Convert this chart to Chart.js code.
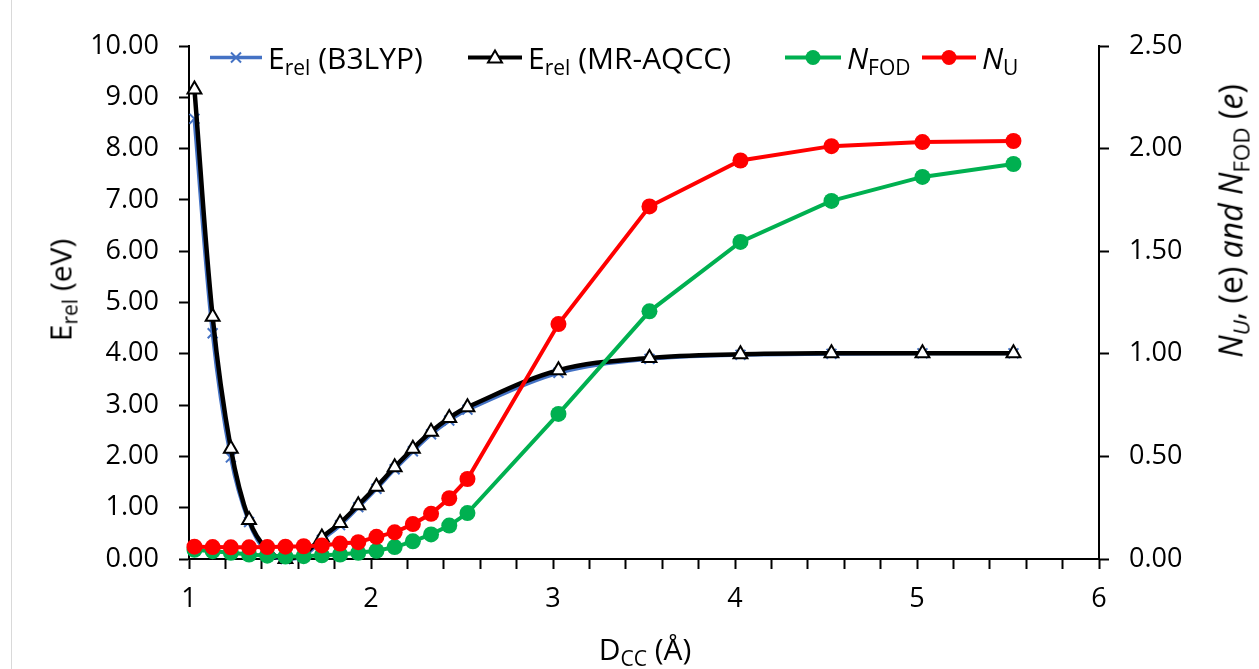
<!DOCTYPE html>
<html lang="en">
<head>
    <meta charset="UTF-8">
    <title>Erel, NFOD and NU vs DCC</title>
    <style>
        body {
            margin: 0;
            padding: 0;
            background: #fff;
            font-family: 'Open Sans', sans-serif;
        }

        #wrap {
            position: relative;
            width: 1259px;
            height: 669px;
            overflow: hidden;
        }

        #frame {
            position: absolute;
            left: 11px;
            top: -2px;
            width: 1300px;
            height: 700px;
            border: 1px solid #d9d9d9;
        }

        canvas {
            position: absolute;
            left: 0;
            top: 0;
        }

        .title {
            position: absolute;
            font-size: 30px;
            color: #000;
            white-space: nowrap;
            transform: translate(-50%, -50%);
        }

        .rot {
            transform: translate(-50%, -50%) rotate(-90deg);
        }

        sub {
            font-size: 70%;
            vertical-align: -0.3em;
            line-height: 0;
        }

        .leg {
            position: absolute;
            top: 57px;
            display: flex;
            align-items: center;
            transform: translateY(-50%);
            font-size: 30px;
            white-space: nowrap;
        }

        .leg svg {
            margin-right: 4px;
        }
    </style>
</head>
<body>
    <div id="wrap">
        <div id="frame"></div>
        <canvas id="chart" width="1259" height="669"></canvas>

        <div class="leg" style="left:208px">
            <svg width="56" height="20"><line x1="2" y1="10" x2="54" y2="10" stroke="#4472C4" stroke-width="3.5"/><path d="M23 5 L33 15 M33 5 L23 15" stroke="#4472C4" stroke-width="2"/></svg>
            <span>E<sub>rel</sub> (B3LYP)</span>
        </div>
        <div class="leg" style="left:466px">
            <svg width="58" height="20"><line x1="2" y1="10" x2="56" y2="10" stroke="#000" stroke-width="4"/><path d="M29 3 L36 15 L22 15 Z" fill="#fff" stroke="#000" stroke-width="2"/></svg>
            <span>E<sub>rel</sub> (MR-AQCC)</span>
        </div>
        <div class="leg" style="left:783px">
            <svg width="60" height="20"><line x1="2" y1="10" x2="58" y2="10" stroke="#00B050" stroke-width="4"/><circle cx="30" cy="10" r="7.5" fill="#00B050"/></svg>
            <span><i>N</i><sub>FOD</sub></span>
        </div>
        <div class="leg" style="left:920px">
            <svg width="58" height="20"><line x1="2" y1="10" x2="56" y2="10" stroke="#FF0000" stroke-width="4"/><circle cx="29" cy="10" r="7.5" fill="#FF0000"/></svg>
            <span><i>N</i><sub>U</sub></span>
        </div>

        <div class="title rot" style="left:60px; top:290px">E<sub>rel</sub> (eV)</div>
        <div class="title rot" style="left:1230px; top:221px; font-size:32px"><i>N<sub>U</sub></i>, (e) <i>and N</i><sub>FOD</sub> (<i>e</i>)</div>
        <div class="title" style="left:645px; top:648px">D<sub>CC</sub> (Å)</div>
    </div>

    <script src="https://cdn.jsdelivr.net/npm/chart.js"></script>
    <script>
        // C-C distance (Angstrom)
        const dcc = [1.03, 1.13, 1.23, 1.33, 1.43, 1.53, 1.63, 1.73, 1.83, 1.93, 2.03,
                     2.13, 2.23, 2.33, 2.43, 2.53, 3.03, 3.53, 4.03, 4.53, 5.03, 5.53];

        // relative energies (eV), left axis
        const eB3lyp = [8.58, 4.40, 1.98, 0.72, 0.12, 0.00, 0.06, 0.37, 0.66, 1.01, 1.37,
                        1.75, 2.10, 2.43, 2.70, 2.91, 3.63, 3.90, 3.98, 4.00, 4.01, 4.01];
        const eMrAqcc = [9.15, 4.72, 2.15, 0.76, 0.18, 0.00, 0.10, 0.42, 0.70, 1.05, 1.41,
                         1.79, 2.15, 2.48, 2.75, 2.96, 3.68, 3.92, 3.99, 4.01, 4.01, 4.01];

        // electron counts (e), right axis
        const nFod = [0.045, 0.038, 0.030, 0.022, 0.016, 0.012, 0.014, 0.018, 0.022, 0.030, 0.040,
                      0.058, 0.086, 0.120, 0.163, 0.224, 0.707, 1.207, 1.545, 1.745, 1.862, 1.925];
        const nU = [0.060, 0.058, 0.057, 0.057, 0.058, 0.060, 0.062, 0.066, 0.075, 0.082, 0.108,
                    0.130, 0.170, 0.220, 0.296, 0.390, 1.145, 1.718, 1.942, 2.012, 2.032, 2.037];

        const pts = arr => dcc.map((x, i) => ({ x: x, y: arr[i] }));

        Chart.defaults.font.family = "'Open Sans', sans-serif";
        Chart.defaults.font.size = 27;
        Chart.defaults.color = '#000';

        const axisGrid = {
            drawOnChartArea: false,
            tickLength: 10,
            tickColor: '#000',
            tickWidth: 2
        };

        new Chart(document.getElementById('chart'), {
            type: 'scatter',
            data: {
                datasets: [
                    {
                        label: 'Erel (B3LYP)',
                        data: pts(eB3lyp),
                        yAxisID: 'y',
                        showLine: true,
                        tension: 0.35,
                        borderColor: '#4472C4',
                        borderWidth: 4,
                        pointStyle: 'crossRot',
                        pointRadius: 7,
                        pointBorderWidth: 2,
                        pointBorderColor: '#4472C4',
                        clip: false,
                        order: 4
                    },
                    {
                        label: 'Erel (MR-AQCC)',
                        data: pts(eMrAqcc),
                        yAxisID: 'y',
                        showLine: true,
                        tension: 0.35,
                        borderColor: '#000',
                        borderWidth: 4.5,
                        pointStyle: 'triangle',
                        pointRadius: 8,
                        pointBorderWidth: 2,
                        pointBorderColor: '#000',
                        pointBackgroundColor: '#fff',
                        clip: false,
                        order: 3
                    },
                    {
                        label: 'NFOD',
                        data: pts(nFod),
                        yAxisID: 'y2',
                        showLine: true,
                        borderColor: '#00B050',
                        borderWidth: 4,
                        pointStyle: 'circle',
                        pointRadius: 8,
                        pointBorderWidth: 0,
                        pointBackgroundColor: '#00B050',
                        clip: false,
                        order: 2
                    },
                    {
                        label: 'NU',
                        data: pts(nU),
                        yAxisID: 'y2',
                        showLine: true,
                        borderColor: '#FF0000',
                        borderWidth: 4,
                        pointStyle: 'circle',
                        pointRadius: 8,
                        pointBorderWidth: 0,
                        pointBackgroundColor: '#FF0000',
                        clip: false,
                        order: 1
                    }
                ]
            },
            options: {
                responsive: false,
                animation: false,
                layout: { padding: { top: 46, left: 0, right: 0, bottom: 0 } },
                plugins: {
                    legend: { display: false },
                    tooltip: { enabled: false }
                },
                scales: {
                    x: {
                        type: 'linear',
                        min: 1,
                        max: 6,
                        border: { color: '#000', width: 2 },
                        grid: axisGrid,
                        ticks: {
                            stepSize: 0.2,
                            padding: 14,
                            maxRotation: 0,
                            autoSkip: false,
                            callback: v => Math.abs(v - Math.round(v)) < 1e-6 ? String(Math.round(v)) : ''
                        },
                        afterFit: s => { s.height = 110; }
                    },
                    y: {
                        position: 'left',
                        min: 0,
                        max: 10,
                        border: { color: '#000', width: 2 },
                        grid: axisGrid,
                        ticks: {
                            stepSize: 1,
                            padding: 20,
                            callback: v => v.toFixed(2)
                        },
                        afterFit: s => { s.width = 189; }
                    },
                    y2: {
                        position: 'right',
                        min: 0,
                        max: 2.5,
                        border: { color: '#000', width: 2 },
                        grid: axisGrid,
                        ticks: {
                            stepSize: 0.5,
                            padding: 20,
                            callback: v => v.toFixed(2)
                        },
                        afterFit: s => { s.width = 160; }
                    }
                }
            }
        });
    </script>
</body>
</html>
